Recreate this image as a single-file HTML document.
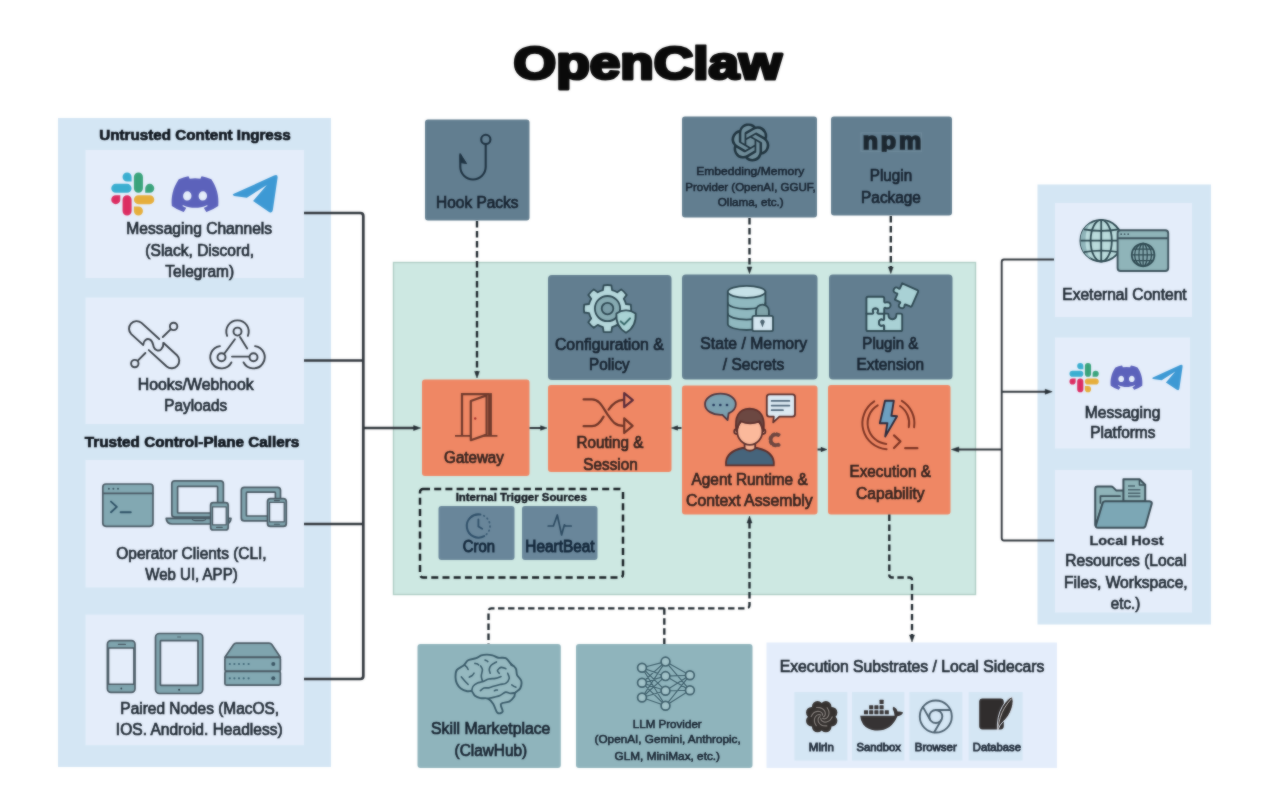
<!DOCTYPE html>
<html lang="en">
<head>
<meta charset="utf-8">
<title>OpenClaw</title>
<style>
html,body{margin:0;padding:0;background:#ffffff;}
body{width:1280px;height:810px;overflow:hidden;position:relative;}
svg{display:block;position:absolute;left:0;top:0;}
text{font-family:"Liberation Sans",Arial,sans-serif;}
.t{font-size:15.6px;fill:#1e2832;stroke:#1e2832;stroke-width:.7px;}
.ts{font-size:11.7px;fill:#1e2832;stroke:#1e2832;stroke-width:.55px;}
.tb{font-size:15.25px;font-weight:bold;fill:#0c131b;stroke:#0c131b;stroke-width:.7px;}
.tl{font-size:11.7px;fill:#263240;stroke:#263240;stroke-width:.9px;}
.ti{font-size:11.4px;font-weight:bold;fill:#10161e;stroke:#10161e;stroke-width:.4px;}
.th{font-size:13.2px;font-weight:bold;fill:#1f2832;stroke:#1f2832;stroke-width:.3px;}
.tn{fill:#13273a;stroke:#13273a;stroke-width:.85px;}
.td{fill:#172330;stroke:#172330;}
.to{fill:#33221e;stroke:#33221e;}
.slate{fill:#627e90;}
.orange{fill:#ef8764;}
.teal{fill:#8fb4bc;}
.panel{fill:#d4e6f4;}
.card{fill:#e4edfa;}
.ln{fill:none;stroke:#30363c;stroke-width:2.7;stroke-linejoin:round;}
.ln2{fill:none;stroke:#30363c;stroke-width:2;stroke-linejoin:round;}
.ln3{fill:none;stroke:#30363c;stroke-width:1.9;stroke-linejoin:round;}
.ds{fill:none;stroke:#1c252b;stroke-width:2.35;stroke-dasharray:6.4 3.6;stroke-linejoin:round;}
.ah{fill:#232c33;stroke:#232c33;stroke-width:.5;stroke-linejoin:round;}
</style>
</head>
<body>
<svg width="1280" height="810" viewBox="0 0 1280 810">
<defs>
<filter id="soft" x="0" y="0" width="1280" height="810" filterUnits="userSpaceOnUse" color-interpolation-filters="sRGB"><feGaussianBlur in="SourceGraphic" stdDeviation="1" result="b"/><feComposite in="SourceGraphic" in2="b" operator="arithmetic" k1="0" k2="0.5" k3="0.5" k4="0"/></filter>
<g id="msgicons">
  <g transform="scale(1.792)">
    <path fill="#dc2d62" d="M5.042 15.165a2.528 2.528 0 0 1-2.52 2.523A2.528 2.528 0 0 1 0 15.165a2.527 2.527 0 0 1 2.522-2.52h2.52v2.52zM6.313 15.165a2.527 2.527 0 0 1 2.521-2.52 2.527 2.527 0 0 1 2.521 2.52v6.313A2.528 2.528 0 0 1 8.834 24a2.528 2.528 0 0 1-2.521-2.522v-6.313z"/>
    <path fill="#3aaed0" d="M8.834 5.042a2.528 2.528 0 0 1-2.521-2.52A2.528 2.528 0 0 1 8.834 0a2.528 2.528 0 0 1 2.521 2.522v2.52H8.834zM8.834 6.313a2.528 2.528 0 0 1 2.521 2.521 2.528 2.528 0 0 1-2.521 2.521H2.522A2.528 2.528 0 0 1 0 8.834a2.528 2.528 0 0 1 2.522-2.521h6.312z"/>
    <path fill="#3aa37b" d="M18.956 8.834a2.528 2.528 0 0 1 2.522-2.521A2.528 2.528 0 0 1 24 8.834a2.528 2.528 0 0 1-2.522 2.521h-2.522V8.834zM17.688 8.834a2.528 2.528 0 0 1-2.523 2.521 2.527 2.527 0 0 1-2.52-2.521V2.522A2.527 2.527 0 0 1 15.165 0a2.528 2.528 0 0 1 2.523 2.522v6.312z"/>
    <path fill="#e6ae3c" d="M15.165 18.956a2.528 2.528 0 0 1 2.523 2.522A2.528 2.528 0 0 1 15.165 24a2.527 2.527 0 0 1-2.52-2.522v-2.522h2.52zM15.165 17.688a2.527 2.527 0 0 1-2.52-2.523 2.526 2.526 0 0 1 2.52-2.52h6.313A2.527 2.527 0 0 1 24 15.165a2.528 2.528 0 0 1-2.522 2.523h-6.313z"/>
  </g>
  <g transform="translate(60.4,-1.8) scale(1.95)">
    <path fill="#5c62bb" fill-rule="evenodd" d="M20.317 4.37a19.79 19.79 0 0 0-4.885-1.515.074.074 0 0 0-.079.037c-.21.375-.444.865-.608 1.25a18.27 18.27 0 0 0-5.487 0 12.64 12.64 0 0 0-.617-1.25.077.077 0 0 0-.079-.037A19.74 19.74 0 0 0 3.677 4.37a.07.07 0 0 0-.032.028C.533 9.046-.32 13.58.099 18.058a.082.082 0 0 0 .031.056 19.9 19.9 0 0 0 5.993 3.03.078.078 0 0 0 .084-.028c.462-.63.873-1.295 1.226-1.994a.076.076 0 0 0-.041-.106 13.1 13.1 0 0 1-1.872-.892.077.077 0 0 1-.008-.128c.126-.094.252-.192.372-.291a.074.074 0 0 1 .078-.01c3.928 1.793 8.18 1.793 12.061 0a.074.074 0 0 1 .079.009c.12.1.246.198.373.293a.077.077 0 0 1-.007.127 12.3 12.3 0 0 1-1.873.892.077.077 0 0 0-.041.107c.36.698.772 1.363 1.225 1.993a.076.076 0 0 0 .084.029 19.84 19.84 0 0 0 6.002-3.03.077.077 0 0 0 .031-.055c.5-5.177-.838-9.674-3.548-13.66a.061.061 0 0 0-.031-.03zM8.02 15.331c-1.183 0-2.157-1.086-2.157-2.419 0-1.333.955-2.419 2.157-2.419 1.21 0 2.176 1.095 2.157 2.42 0 1.332-.956 2.418-2.157 2.418zm7.975 0c-1.183 0-2.157-1.086-2.157-2.419 0-1.333.955-2.419 2.157-2.419 1.21 0 2.176 1.095 2.157 2.42 0 1.332-.946 2.418-2.157 2.418z"/>
  </g>
  <path fill="#3d99d4" d="M122.6 21.3 L162.8 3.1 Q166.9 1.4 166.3 5.6 L161.6 37.6 Q161 41.3 157.8 39.4 L141.8 28.6 L155.6 12.6 L135.6 25.2 L123 23.4 Q120.2 22.5 122.6 21.3 Z"/>
</g>
<path id="openai" fill-rule="evenodd" d="M22.2819 9.8211a5.9847 5.9847 0 0 0-.5157-4.9108 6.0462 6.0462 0 0 0-6.5098-2.9A6.0651 6.0651 0 0 0 4.9807 4.1818a5.9847 5.9847 0 0 0-3.9977 2.9 6.0462 6.0462 0 0 0 .7427 7.0966 5.98 5.98 0 0 0 .511 4.9107 6.051 6.051 0 0 0 6.5146 2.9001A5.9847 5.9847 0 0 0 13.2599 24a6.0557 6.0557 0 0 0 5.7718-4.2058 5.9894 5.9894 0 0 0 3.9977-2.9001 6.0557 6.0557 0 0 0-.7475-7.0729zm-9.022 12.6081a4.4755 4.4755 0 0 1-2.8764-1.0408l.1419-.0804 4.7783-2.7582a.7948.7948 0 0 0 .3927-.6813v-6.7369l2.02 1.1686a.071.071 0 0 1 .038.052v5.5826a4.504 4.504 0 0 1-4.4945 4.4944zm-9.6607-4.1254a4.4708 4.4708 0 0 1-.5346-3.0137l.142.0852 4.783 2.7582a.7712.7712 0 0 0 .7806 0l5.8428-3.3685v2.3324a.0804.0804 0 0 1-.0332.0615L9.74 19.9502a4.4992 4.4992 0 0 1-6.1408-1.6464zM2.3408 7.8956a4.485 4.485 0 0 1 2.3655-1.9728V11.6a.7664.7664 0 0 0 .3879.6765l5.8144 3.3543-2.0201 1.1685a.0757.0757 0 0 1-.071 0l-4.8303-2.7865A4.504 4.504 0 0 1 2.3408 7.872zm16.5963 3.8558L13.1038 8.364 15.1192 7.2a.0757.0757 0 0 1 .071 0l4.8303 2.7913a4.4944 4.4944 0 0 1-.6765 8.1042v-5.6772a.79.79 0 0 0-.407-.667zm2.0107-3.0231l-.142-.0852-4.7735-2.7818a.7759.7759 0 0 0-.7854 0L9.409 9.2297V6.8974a.0662.0662 0 0 1 .0284-.0615l4.8303-2.7866a4.4992 4.4992 0 0 1 6.6802 4.66zM8.3065 12.863l-2.02-1.1638a.0804.0804 0 0 1-.038-.0567V6.0742a4.4992 4.4992 0 0 1 7.3757-3.4537l-.142.0805L8.704 5.459a.7948.7948 0 0 0-.3927.6813zm1.0976-2.3654l2.602-1.4998 2.6069 1.4998v2.9994l-2.5974 1.4997-2.6067-1.4997Z"/>
<clipPath id="titleclip"><rect x="500" y="44.4" width="300" height="60"/></clipPath>
<clipPath id="npmclip"><rect x="858" y="130" width="68" height="21.8"/></clipPath>
</defs>
<g filter="url(#soft)">
<rect x="0" y="0" width="1280" height="810" fill="#ffffff"/>
<!-- panels -->
<rect class="panel" x="58" y="118" width="273" height="649"/>
<rect class="card" x="85.5" y="150" width="218.5" height="128"/>
<rect class="card" x="85.5" y="297.5" width="218.5" height="126.5"/>
<rect class="card" x="85.5" y="460" width="218.5" height="127.5"/>
<rect class="card" x="85.5" y="614.6" width="218.5" height="130.6"/>
<rect class="panel" x="1037.5" y="184.5" width="173.5" height="440"/>
<rect class="card" x="1055" y="203" width="137" height="114"/>
<rect class="card" x="1055" y="337.5" width="135" height="111"/>
<rect class="card" x="1055" y="470" width="137" height="142.5"/>
<rect x="393.5" y="262.5" width="582" height="332" fill="#cde8e2" stroke="#aecdc4" stroke-width="1.4"/>
<!-- top slate boxes -->
<rect class="slate" x="425" y="119.5" width="104.5" height="101" rx="3"/>
<rect class="slate" x="682" y="116.5" width="135" height="101" rx="3"/>
<rect class="slate" x="831" y="116.5" width="121" height="99" rx="3"/>
<!-- inner slate boxes -->
<rect class="slate" x="548" y="275" width="123.5" height="105" rx="4"/>
<rect class="slate" x="682" y="274.5" width="135.5" height="105" rx="4"/>
<rect class="slate" x="829" y="274.5" width="123.5" height="105" rx="4"/>
<!-- orange boxes -->
<rect class="orange" x="422" y="379.5" width="107.5" height="96.5" rx="3"/>
<rect class="orange" x="548" y="385" width="123.5" height="87" rx="3"/>
<rect class="orange" x="682" y="385.5" width="135.5" height="129" rx="3"/>
<rect class="orange" x="828" y="385" width="122.5" height="129.5" rx="3"/>
<!-- internal trigger -->
<rect x="420" y="489" width="203" height="88.5" rx="3" fill="none" stroke="#141b20" stroke-width="2.45" stroke-dasharray="7 4.2"/>
<rect x="438.5" y="506" width="76" height="54" rx="3" fill="#69869a"/>
<rect x="522" y="506" width="75.5" height="54" rx="3" fill="#69869a"/>
<!-- bottom boxes -->
<rect class="teal" x="417.5" y="644.1" width="143.3" height="123.9" rx="3"/>
<rect class="teal" x="576" y="644.1" width="176.5" height="123.9" rx="3"/>
<rect x="766.5" y="642.5" width="290.5" height="125.5" fill="#e4edfb"/>
<rect x="794.4" y="692" width="53" height="68.6" fill="#d4e6f4"/>
<rect x="852" y="692" width="52.4" height="68.6" fill="#d4e6f4"/>
<rect x="909.4" y="692" width="53" height="68.6" fill="#d4e6f4"/>
<rect x="968.6" y="692" width="54" height="68.6" fill="#d4e6f4"/>
<!-- left connectors -->
<path class="ln" d="M304 213 H360.3 Q363.3 213 363.3 216 V676 Q363.3 679 360.3 679 H304"/>
<path class="ln" d="M304 360.5 H363.3 M304 524 H363.3 M363.3 428 H415"/>
<path class="ah" d="M420.6 428 L413.6 425.5 V430.5 Z"/>
<path class="ln2" d="M529.5 428 H541"/>
<path class="ah" d="M547 428 L540.6 425.7 V430.3 Z"/>
<path class="ln2" d="M677 428 H681.5"/>
<path class="ah" d="M671.4 428 L677.6 425.8 V430.2 Z"/>
<path class="ah" d="M827 449.5 L821 447.3 V451.7 Z"/>
<path class="ln2" d="M817.5 449.5 H821.5"/>
<!-- right connectors -->
<path class="ln3" d="M1054 259.5 H1004 Q1001.7 259.5 1001.7 262 V538 Q1001.7 540.5 1004 540.5 H1054"/>
<path class="ln3" d="M1001.7 391.7 H1046 M958 449.5 H1001.7"/>
<path class="ah" d="M1052.2 391.7 L1045.2 389.2 V394.2 Z"/>
<path class="ah" d="M951.4 449.5 L958.8 446.9 V452.1 Z"/>
<!-- dashed connectors -->
<path class="ds" d="M477 221 V372"/>
<path class="ah" d="M477 378 L474.6 371.4 H479.4 Z"/>
<path class="ds" d="M749.5 218 V268"/>
<path class="ah" d="M749.5 273.6 L747.1 267 H751.9 Z"/>
<path class="ds" d="M890.8 216 V268"/>
<path class="ah" d="M890.8 273.6 L888.4 267 H893.2 Z"/>
<path class="ds" d="M749.5 522 V605 Q749.5 608.3 746.5 608.3 H491.5 Q488.5 608.3 488.5 611.5 V644"/>
<path class="ds" d="M664.3 608.3 V644"/>
<path class="ah" d="M749.5 516 L747 523 H752 Z"/>
<path class="ds" d="M889.3 514.5 V575 Q889.3 577.5 892 577.5 H909.5 Q912 577.5 912 580 V635"/>
<path class="ah" d="M912 642 L909.5 635 H914.5 Z"/>
<!-- title -->
<text x="647.6" y="78.9" clip-path="url(#titleclip)" text-anchor="middle" font-size="46" font-weight="bold" fill="#0a0a0a" stroke="#0a0a0a" stroke-width="3.2" stroke-linejoin="round" textLength="268" lengthAdjust="spacingAndGlyphs">OpenClaw</text>
<!-- labels -->
<text class="tb" x="99.35" y="140" textLength="191.30" lengthAdjust="spacingAndGlyphs">Untrusted Content Ingress</text>
<text class="t" x="126.35" y="234" textLength="145.79" lengthAdjust="spacingAndGlyphs">Messaging Channels</text>
<text class="t" x="145.35" y="255.5" textLength="108.79" lengthAdjust="spacingAndGlyphs">(Slack, Discord,</text>
<text class="t" x="165.35" y="276.7" textLength="68.81" lengthAdjust="spacingAndGlyphs">Telegram)</text>
<text class="t" x="137.85" y="390" textLength="115.75" lengthAdjust="spacingAndGlyphs">Hooks/Webhook</text>
<text class="t" x="164.35" y="411.2" textLength="62.78" lengthAdjust="spacingAndGlyphs">Payloads</text>
<text class="tb" x="84.85" y="447" textLength="214.29" lengthAdjust="spacingAndGlyphs">Trusted Control-Plane Callers</text>
<text class="t" x="116.35" y="559" textLength="150.31" lengthAdjust="spacingAndGlyphs">Operator Clients (CLI,</text>
<text class="t" x="145.35" y="580.2" textLength="92.31" lengthAdjust="spacingAndGlyphs">Web UI, APP)</text>
<text class="t" x="120.35" y="714" textLength="158.79" lengthAdjust="spacingAndGlyphs">Paired Nodes (MacOS,</text>
<text class="t" x="115.85" y="735.2" textLength="166.81" lengthAdjust="spacingAndGlyphs">IOS. Android. Headless)</text>
<text class="t td" x="436.10" y="207.5" textLength="82.31" lengthAdjust="spacingAndGlyphs">Hook Packs</text>
<text class="ts td" x="696.27" y="175" textLength="107.96" lengthAdjust="spacingAndGlyphs">Embedding/Memory</text>
<text class="ts td" x="685.27" y="190.5" textLength="130.45" lengthAdjust="spacingAndGlyphs">Provider (OpenAI, GGUF,</text>
<text class="ts td" x="717.77" y="206" textLength="65.96" lengthAdjust="spacingAndGlyphs">Ollama, etc.)</text>
<text class="t td" x="869.85" y="180.5" textLength="42.30" lengthAdjust="spacingAndGlyphs">Plugin</text>
<text class="t td" x="861.10" y="202.5" textLength="59.79" lengthAdjust="spacingAndGlyphs">Package</text>
<text class="t td" x="554.95" y="349.5" textLength="108.91" lengthAdjust="spacingAndGlyphs">Configuration &amp;</text>
<text class="t td" x="589.10" y="370.3" textLength="40.55" lengthAdjust="spacingAndGlyphs">Policy</text>
<text class="t td" x="700.35" y="348.9" textLength="106.80" lengthAdjust="spacingAndGlyphs">State / Memory</text>
<text class="t td" x="722.85" y="370.3" textLength="61.31" lengthAdjust="spacingAndGlyphs">/ Secrets</text>
<text class="t td" x="862.35" y="348.9" textLength="56.05" lengthAdjust="spacingAndGlyphs">Plugin &amp;</text>
<text class="t td" x="856.60" y="370.3" textLength="67.54" lengthAdjust="spacingAndGlyphs">Extension</text>
<text class="t to" x="444.10" y="462.5" textLength="59.78" lengthAdjust="spacingAndGlyphs">Gateway</text>
<text class="t to" x="576.60" y="448.3" textLength="66.79" lengthAdjust="spacingAndGlyphs">Routing &amp;</text>
<text class="t to" x="583.35" y="469.5" textLength="54.30" lengthAdjust="spacingAndGlyphs">Session</text>
<text class="t to" x="691.60" y="485" textLength="116.05" lengthAdjust="spacingAndGlyphs">Agent Runtime &amp;</text>
<text class="t to" x="686.10" y="506.3" textLength="126.57" lengthAdjust="spacingAndGlyphs">Context Assembly</text>
<text class="t to" x="849.60" y="477" textLength="81.29" lengthAdjust="spacingAndGlyphs">Execution &amp;</text>
<text class="t to" x="856.10" y="498.8" textLength="68.53" lengthAdjust="spacingAndGlyphs">Capability</text>
<text class="ti" x="455.70" y="500.5" textLength="131.09" lengthAdjust="spacingAndGlyphs">Internal Trigger Sources</text>
<text class="t tn" x="462.85" y="552" textLength="32.30" lengthAdjust="spacingAndGlyphs">Cron</text>
<text class="t tn" x="525.35" y="552" textLength="69.30" lengthAdjust="spacingAndGlyphs">HeartBeat</text>
<text class="t td" x="431.10" y="734.3" textLength="119.31" lengthAdjust="spacingAndGlyphs">Skill Marketplace</text>
<text class="t td" x="454.60" y="755.5" textLength="72.56" lengthAdjust="spacingAndGlyphs">(ClawHub)</text>
<text class="ts td" x="632.77" y="727.5" textLength="68.94" lengthAdjust="spacingAndGlyphs">LLM Provider</text>
<text class="ts td" x="594.57" y="743.2" textLength="146.16" lengthAdjust="spacingAndGlyphs">(OpenAI, Gemini, Anthropic,</text>
<text class="ts td" x="614.57" y="759.5" textLength="105.46" lengthAdjust="spacingAndGlyphs">GLM, MiniMax, etc.)</text>
<text class="t" x="779.75" y="672" textLength="264.60" lengthAdjust="spacingAndGlyphs">Execution Substrates / Local Sidecars</text>
<text class="tl" x="808.85" y="751.2" textLength="24.99" lengthAdjust="spacingAndGlyphs">Mirin</text>
<text class="tl" x="856.45" y="751.2" textLength="44.30" lengthAdjust="spacingAndGlyphs">Sandbox</text>
<text class="tl" x="914.85" y="751.2" textLength="41.90" lengthAdjust="spacingAndGlyphs">Browser</text>
<text class="tl" x="972.85" y="751.2" textLength="48.11" lengthAdjust="spacingAndGlyphs">Database</text>
<text class="t" x="1062.35" y="299.5" textLength="124.30" lengthAdjust="spacingAndGlyphs">Exeternal Content</text>
<text class="t" x="1084.85" y="417.5" textLength="75.57" lengthAdjust="spacingAndGlyphs">Messaging</text>
<text class="t" x="1090.35" y="438.2" textLength="65.06" lengthAdjust="spacingAndGlyphs">Platforms</text>
<text class="th" x="1089.40" y="545" textLength="74.19" lengthAdjust="spacingAndGlyphs">Local Host</text>
<text class="t" x="1065.35" y="566.3" textLength="121.28" lengthAdjust="spacingAndGlyphs">Resources (Local</text>
<text class="t" x="1064.10" y="587.5" textLength="123.57" lengthAdjust="spacingAndGlyphs">Files, Workspace,</text>
<text class="t" x="1110.85" y="609.3" textLength="29.30" lengthAdjust="spacingAndGlyphs">etc.)</text>
<!-- messaging icons -->
<use href="#msgicons" x="111.25" y="172.5"/>
<use href="#msgicons" transform="translate(1069.5,363) scale(0.68)"/>
<!-- chain link icon -->
<g stroke="#3a4149" stroke-width="1.9" fill="none" stroke-linecap="round" stroke-linejoin="round">
<path d="M159.2 339 L141.52 322.89 A7.6 7.6 0 0 0 131.28 334.11 L143.1 344.9"/>
<path d="M163.6 343 L176.97 355.24 A7.6 7.6 0 0 1 166.73 366.46 L148.8 350.1"/>
<path d="M143.3 344.6 C143.6 340.2 146.8 338.3 149.6 339.4 C153.2 340.9 152.8 344.6 153.9 347.4 C155.2 350.6 158.8 351.6 161.1 349.3 C162.9 347.4 163.6 345.2 163.4 343"/>
<circle cx="173.6" cy="326.4" r="3.7"/><path d="M170.6 329.4 L162.8 337"/>
<circle cx="134.8" cy="363.6" r="3.7"/><path d="M137.8 360.6 L145.4 353"/>
</g>
<!-- webhook icon -->
<g stroke="#3a4149" stroke-width="1.9" fill="none" stroke-linecap="round" stroke-linejoin="round">
<circle cx="237.5" cy="331.6" r="4"/>
<circle cx="221.5" cy="357.2" r="4"/>
<circle cx="253.5" cy="357.2" r="4"/>
<path d="M247.88 335.80 A11.2 11.2 0 1 0 227.12 335.80"/>
<path d="M219.94 346.11 A11.2 11.2 0 1 0 231.39 362.46"/>
<path d="M255.06 346.11 A11.2 11.2 0 1 1 243.61 362.46"/>
<path d="M234.9 339.2 L224.6 353.2 M240 337 L247.2 348.4 M232 356.6 L248.8 356.6"/>
</g>
<!-- operator client icons -->
<g stroke="#4a5a64" stroke-width="1.7" stroke-linejoin="round" stroke-linecap="round">
  <!-- terminal -->
  <rect x="102.8" y="484" width="50.2" height="42.3" rx="3.2" fill="#82a8b2"/>
  <path d="M103 493.3 H153" fill="none"/>
  <path d="M111 501.6 L116.8 506.9 L111 512.2 M120.6 512.2 H130.8" fill="none" stroke="#2f5266" stroke-width="1.9"/>
  <g stroke="none" fill="#3d5561"><circle cx="108.9" cy="488.8" r="1"/><circle cx="113.4" cy="488.8" r="1"/><circle cx="118" cy="488.8" r="1"/></g>
  <!-- laptop + phone -->
  <rect x="171.8" y="480.8" width="51.6" height="36.4" rx="3" fill="#7fa4ae"/>
  <rect x="177.6" y="486.4" width="40" height="26.6" rx="0.8" fill="#e4edfa"/>
  <path d="M166.2 518.4 H231 Q230.6 524 225 524 H172.2 Q166.6 524 166.2 518.4 Z" fill="#7fa4ae"/>
  <path d="M192 518.6 Q192.5 520.6 195 520.6 H203 Q205.5 520.6 206 518.6" fill="none" stroke-width="1.2"/>
  <rect x="210.6" y="502.6" width="17.6" height="27.4" rx="2.6" fill="#7fa4ae"/>
  <rect x="212.6" y="506.8" width="13.6" height="18" fill="#e4edfa" stroke-width="1.2"/>
  <path d="M216.6 527.4 H222.2" stroke-width="1.2" fill="none"/>
  <!-- tablet + phone -->
  <rect x="241.3" y="487.3" width="39.2" height="33.6" rx="3" fill="#7fa4ae"/>
  <rect x="246.4" y="492.2" width="29" height="23.8" rx="0.8" fill="#e4edfa"/>
  <rect x="267.5" y="498.6" width="18.8" height="27.8" rx="3" fill="#7fa4ae"/>
  <rect x="269.6" y="502.4" width="14.6" height="19.4" fill="#e4edfa" stroke-width="1.2"/>
  <path d="M274.4 500.6 H279.4 M274.4 524.2 H279.4" stroke-width="1.1" fill="none"/>
</g>
<!-- paired node icons -->
<g stroke="#4a5a64" stroke-width="1.7" stroke-linejoin="round" stroke-linecap="round">
  <!-- phone -->
  <rect x="107.4" y="640.6" width="27.6" height="51.8" rx="3.6" fill="#7fa4ae"/>
  <rect x="108.6" y="648" width="25.2" height="36.2" fill="#e4edfa" stroke-width="1.4"/>
  <path d="M118.4 644.4 H125.4" fill="none" stroke-width="1.2"/>
  <circle cx="121.3" cy="688.5" r="0.9" fill="#33444e" stroke="none"/>
  <!-- tablet -->
  <rect x="155.5" y="633.5" width="47.2" height="60" rx="4" fill="#7fa4ae"/>
  <rect x="160.4" y="640.6" width="37.6" height="44.8" rx="0.6" fill="#e4edfa"/>
  <circle cx="179.1" cy="689.8" r="1" fill="#2c3b45" stroke="none"/>
  <path d="M177.6 637 H180.6" stroke-width="0.9" fill="none"/>
  <!-- server -->
  <path d="M224.9 657.3 L233.6 644.6 Q234.6 643.2 236.4 643.2 H269 Q270.8 643.2 271.8 644.6 L280.4 657.3 Z" fill="#7fa4ae"/>
  <rect x="224.9" y="657.3" width="55.5" height="14" rx="1.6" fill="#82a8b2"/>
  <rect x="224.9" y="671.3" width="55.5" height="13.8" rx="1.6" fill="#82a8b2"/>
  <g stroke="none" fill="#3f6677"><circle cx="229.8" cy="664" r="1.1"/><circle cx="234.4" cy="664" r="1.1"/><circle cx="239" cy="664" r="1.1"/><circle cx="243.7" cy="664" r="1.1"/><circle cx="248.6" cy="664" r="1.1"/><circle cx="229.8" cy="678.3" r="1.1"/><circle cx="234.4" cy="678.3" r="1.1"/><circle cx="239" cy="678.3" r="1.1"/><circle cx="243.7" cy="678.3" r="1.1"/><circle cx="248.6" cy="678.3" r="1.1"/></g>
  <g stroke="none" fill="#3b5563"><circle cx="273.3" cy="664" r="2"/><circle cx="273.3" cy="678.3" r="2"/></g>
</g>
<!-- hook icon -->
<g fill="none" stroke="#1f3342" stroke-width="2.1" stroke-linecap="round" stroke-linejoin="round">
  <circle cx="485.8" cy="139.4" r="4.6"/>
  <path d="M485.7 144.4 V166.8 A12.7 12.7 0 0 1 460.3 166.8 V155"/>
  <path d="M460.3 153.8 L466.6 163.6 L460.8 162.6 Z" fill="#1f3342" stroke-width="1"/>
</g>
<!-- openai icon -->
<circle cx="750.4" cy="142.4" r="17" fill="#7b99a2" opacity=".55"/>
<use href="#openai" transform="translate(731.4,123.4) scale(1.585)" fill="#20343f"/>
<!-- npm logo -->
<rect x="861" y="132.9" width="60.6" height="18.4" fill="none" stroke="#8aa3b3" stroke-opacity=".35" stroke-width="1"/>
<g clip-path="url(#npmclip)"><text transform="translate(862.8,0) scale(1.07,1)" x="0" y="149.3" text-anchor="start" font-size="23.4" font-weight="bold" fill="#1c2730" stroke="#1c2730" stroke-width="1.6" stroke-linejoin="miter" textLength="54.6" lengthAdjust="spacing">npm</text></g>
<!-- gear + shield -->
<g stroke="#2f4953" stroke-width="1.8" stroke-linejoin="round" stroke-linecap="round">
<path d="M602.90 290.16 L603.60 285.32 A23.6 23.6 0 0 1 611.40 285.32 L612.10 290.16 A19.0 19.0 0 0 1 617.29 292.31 L621.20 289.39 A23.6 23.6 0 0 1 626.71 294.90 L623.79 298.81 A19.0 19.0 0 0 1 625.94 304.00 L630.78 304.70 A23.6 23.6 0 0 1 630.78 312.50 L625.94 313.20 A19.0 19.0 0 0 1 623.79 318.39 L626.71 322.30 A23.6 23.6 0 0 1 621.20 327.81 L617.29 324.89 A19.0 19.0 0 0 1 612.10 327.04 L611.40 331.88 A23.6 23.6 0 0 1 603.60 331.88 L602.90 327.04 A19.0 19.0 0 0 1 597.71 324.89 L593.80 327.81 A23.6 23.6 0 0 1 588.29 322.30 L591.21 318.39 A19.0 19.0 0 0 1 589.06 313.20 L584.22 312.50 A23.6 23.6 0 0 1 584.22 304.70 L589.06 304.00 A19.0 19.0 0 0 1 591.21 298.81 L588.29 294.90 A23.6 23.6 0 0 1 593.80 289.39 L597.71 292.31 A19.0 19.0 0 0 1 602.90 290.16 Z" fill="#b5d7db"/>
<circle cx="607.5" cy="308.6" r="12.6" fill="#86aab1"/>
<circle cx="607.5" cy="308.6" r="5.8" fill="#7a9ca6"/>
<path d="M626 310.4 Q631 310.2 635.6 313.4 Q636.6 326.6 626 332.8 Q615.4 326.6 616.4 313.4 Q621 310.2 626 310.4 Z" fill="#a9d2d4"/>
<path d="M620.8 321.4 L624.2 324.4 L630 318.4" fill="none" stroke="#38696a" stroke-width="2"/>
</g>
<!-- database + lock -->
<g stroke="#2f4953" stroke-width="1.8" stroke-linejoin="round" stroke-linecap="round">
<path d="M727.8 291.8 V324 A18.8 6 0 0 0 765.4 324 V291.8 Z" fill="#8fb8bf"/>
<path d="M727.8 303 A18.8 6 0 0 0 765.4 303 M727.8 313.6 A18.8 6 0 0 0 765.4 313.6" fill="none"/>
<ellipse cx="746.6" cy="291.8" rx="18.8" ry="6" fill="#c6e1e7"/>
<path d="M756 316 V311 A6.45 6.45 0 0 1 768.9 311 V316 Z" fill="#7fa3a9"/>
<rect x="752.4" y="315.8" width="20.6" height="15.4" rx="1.6" fill="#d2e5ef"/>
<path d="M762.45 319.4 a2.3 2.3 0 0 1 1.5 4 L762.45 327.4 L760.95 323.4 a2.3 2.3 0 0 1 1.5 -4 Z" fill="#4a626e" stroke="none"/>
</g>
<!-- puzzle -->
<g stroke="#2f4953" stroke-width="1.9" stroke-linejoin="round" stroke-linecap="round" fill="#a9d1d5">
<path d="M866.4 313.6 H872.2 Q873.8 313.6 873 312 Q871.8 308.4 875.4 308.2 Q879 308.4 877.8 312 Q877 313.6 878.6 313.6 H884.2 V319 Q884.2 320.4 882.8 319.8 Q879.2 318.6 879 322.6 Q879.2 326.6 882.8 325.4 Q884.2 324.8 884.2 326.2 V331 H868 Q866.4 331 866.4 329.4 Z"/>
<path d="M866.4 313.6 V298.4 Q866.4 296.8 868 296.8 H882.6 Q884.2 296.8 884.2 298.4 V301.6 Q884.2 303 885.8 302.4 Q890.4 301.4 890.6 305.2 Q890.4 309 885.8 308 Q884.2 307.4 884.2 308.8 V313.6 H878.6 Q877 313.6 877.8 312 Q879 308.4 875.4 308.2 Q871.8 308.4 873 312 Q873.8 313.6 872.2 313.6 Z"/>
<path d="M884.2 313.6 H887.4 Q888.6 313.6 888.4 314.8 Q888.4 319 892.4 319.2 Q896.4 319 896.4 314.8 Q896.2 313.6 897.4 313.6 H900.6 Q902.2 313.6 902.2 315.2 V329.4 Q902.2 331 900.6 331 H884.2 V326.2 Q884.2 324.8 882.8 325.4 Q879.2 326.6 879 322.6 Q879.2 318.6 882.8 319.8 Q884.2 320.4 884.2 319 Z"/>
<g transform="translate(906.4,295) rotate(24)">
<path d="M-8.6 -9 H8 Q9.4 -9 9.4 -7.6 V7.6 Q9.4 9 8 9 H3.4 Q2 9 2.6 10.4 Q3.6 14 0 14.2 Q-3.6 14 -2.6 10.4 Q-2 9 -3.4 9 H-8.6 V3.2 Q-8.6 1.8 -10 2.4 Q-13.6 3.4 -13.8 -0.2 Q-13.6 -3.8 -10 -2.8 Q-8.6 -2.2 -8.6 -3.6 Z"/>
</g>
</g>
<!-- door -->
<g stroke="#6f3a2c" stroke-width="2.2" stroke-linejoin="miter" stroke-linecap="butt" fill="none">
<path d="M455 435.8 H497.4" stroke-width="1.8"/>
<path d="M462 435.8 V394.2 H489"/>
<path d="M490 393.1 V435.8" stroke-width="3.8"/>
<path d="M470.8 401 L486.6 395.4 V434.6 L470.8 440.2 Z" fill="#f08a68" stroke-linejoin="round"/>
<circle cx="475.2" cy="418.5" r="1.2" fill="#a3302a" stroke="none"/>
</g>
<!-- shuffle -->
<g stroke="#6e3527" stroke-width="2.2" stroke-linejoin="round" stroke-linecap="round" fill="none">
<path d="M583.6 399.4 H592 C600 399.4 603 408 607.6 414.6 C612 421 615 425.8 623.4 425.8"/>
<path d="M583.6 426.2 H592 C597.4 426.2 600.6 422 603.6 416.6 M608.6 409.6 C612.4 404 616.4 400 623 399.8"/>
<path d="M624.2 393.2 L632.8 400.2 L624.2 407.2 Z" stroke="#5a2c3a"/>
<path d="M624.2 418.4 L632.6 425.8 L624.2 433 Z"/>
</g>
<!-- agent -->
<g stroke="#5a2f2c" stroke-width="1.8" stroke-linejoin="round" stroke-linecap="round">
<path d="M726 465.4 V462 Q727 451.6 742.4 448 L757 448 Q772.8 451.6 773.8 462 V465.4 Z" fill="#46647b"/>
<path d="M744.6 444 V448.6 Q749.8 453 755.2 448.6 V444 Z" fill="#f9b495"/>
<circle cx="736.6" cy="431.6" r="2.4" fill="#f9b495"/><circle cx="763" cy="431.6" r="2.4" fill="#f9b495"/>
<ellipse cx="749.8" cy="431.2" rx="12.6" ry="13.6" fill="#fbb99b"/>
<path d="M736.4 431 Q733.2 409.4 749.6 408.6 Q766.4 409.4 763.4 431 Q761.6 424.6 759.4 421.4 Q750 425.6 740.6 421.2 Q738 425 736.4 431 Z" fill="#6c4842"/>
<path d="M720.4 393.6 C729.6 393.6 735.8 398.4 735.8 404.2 C735.8 408.6 732.6 411.6 728.6 413.4 L727.6 420.2 L722.4 414.8 C712.6 415.4 705 410.6 705 404.2 C705 398.4 711.4 393.6 720.4 393.6 Z" fill="#7b9fae" stroke="#4d3640"/>
<g stroke="none" fill="#22365a"><circle cx="713.6" cy="405" r="1.35"/><circle cx="720.3" cy="405" r="1.35"/><circle cx="727" cy="405" r="1.35"/></g>
<path d="M769.4 394.4 H792.4 Q795 394.4 795 397 V414 Q795 416.6 792.4 416.6 H779.4 L773.2 422.4 L773.8 416.6 H769.4 Q766.8 416.6 766.8 414 V397 Q766.8 394.4 769.4 394.4 Z" fill="#dce9f2"/>
<path d="M771.6 400.9 H789.4 M771.6 405.6 H789.4 M771.6 410.2 H783" stroke="#4d6478" stroke-width="1.7" fill="none"/>
<g fill="none" stroke="#6d4640"><path d="M778.35 435.39 A5 5 0 1 0 778.35 444.21" stroke-width="3"/><path d="M779.29 434.54 A6.2 6.2 0 1 0 779.29 445.06" stroke-width="2.6" stroke-dasharray="2.5 2.4"/></g>
</g>
<!-- execution -->
<g stroke="#7d3524" stroke-width="2" stroke-linecap="round" stroke-linejoin="round" fill="none">
<path d="M874.24 401.39 A26 26 0 0 0 886.59 449.14"/>
<path d="M877.69 405.37 A20.8 20.8 0 0 0 886.23 443.89"/>
<path d="M901.79 400.91 A26 26 0 0 1 914.08 427.27"/>
<path d="M900.03 405.96 A20.8 20.8 0 0 1 908.82 427.17"/>
<path d="M894 435.4 L900.4 441.4 L894 448 M905.2 448.2 H917.4" stroke-width="2.2"/>
<path d="M885 400.8 H893.8 L891.4 415.8 L897 416.2 L885.2 436.4 L887.4 423.2 H879.8 Z" fill="#6da0c1" stroke="#2b2a3c" stroke-width="1.9"/>
</g>
<!-- cron -->
<g stroke="#31516a" fill="none" stroke-linecap="round" stroke-linejoin="round">
<path d="M480.41 514.58 A11.6 11.6 0 1 0 484.20 536.05" stroke-width="2"/>
<path d="M483.85 515.76 A11.6 11.6 0 0 1 485.54 535.14" stroke-width="1.8" stroke-dasharray="0.6 3.6" opacity=".8"/>
<path d="M478.4 519.4 V526.4 L482.2 528.8" stroke-width="1.8"/>
</g>
<!-- heartbeat -->
<path d="M548.2 526 H553.4 L557.3 515 L561.6 535 L564.4 524.8 L565.4 526 H571.2" stroke="#2d4b61" stroke-width="1.7" fill="none" stroke-linecap="round" stroke-linejoin="round"/>
<!-- brain -->
<g stroke="#3a5b69" stroke-width="1.9" fill="none" stroke-linecap="round" stroke-linejoin="round">
<path d="M455.48 676.96 C455.48 674.69 455.48 671.88 456.89 669.92 C458.29 667.97 462.05 666.84 463.92 665.23 C465.80 663.62 466.11 661.43 468.14 660.26 C470.18 659.09 473.93 659.01 476.12 658.20 C478.31 657.38 479.48 655.97 481.28 655.38 C483.07 654.79 485.03 654.63 486.90 654.63 C488.78 654.63 490.66 654.86 492.53 655.38 C494.41 655.90 495.97 657.26 498.16 657.73 C500.35 658.20 503.60 657.26 505.67 658.20 C507.73 659.13 508.86 661.63 510.54 663.35 C512.23 665.07 514.70 666.56 515.80 668.51 C516.89 670.47 516.20 673.02 517.11 675.08 C518.02 677.14 520.71 678.71 521.24 680.90 C521.77 683.09 521.30 686.24 520.30 688.21 C519.30 690.18 516.27 691.28 515.23 692.72 C514.20 694.16 515.05 695.41 514.11 696.84 C513.17 698.28 511.79 700.16 509.61 701.35 C507.42 702.54 502.13 702.25 500.98 703.97 C499.82 705.69 503.26 710.20 502.66 711.67 C502.07 713.14 498.97 714.07 497.41 712.79 C495.85 711.51 494.85 706.35 493.28 703.97 C491.72 701.60 490.19 699.50 488.03 698.53 C485.87 697.56 482.53 698.63 480.34 698.16 C478.15 697.69 476.34 696.88 474.90 695.72 C473.46 694.56 472.99 691.97 471.71 691.22 C470.43 690.47 469.02 691.68 467.20 691.22 C465.39 690.75 462.55 689.68 460.83 688.40 C459.11 687.12 457.78 685.43 456.89 683.52 C455.99 681.62 455.48 679.22 455.48 676.96 Z" fill="#ffffff" fill-opacity=".07"/>
<path d="M471.71 691.22 C471.93 690.40 472.05 687.70 473.02 686.34 C473.99 684.98 475.99 683.80 477.52 683.05 C479.06 682.30 480.34 682.51 482.21 681.83 C484.09 681.16 486.59 679.60 488.78 679.02 C490.97 678.44 493.31 678.79 495.35 678.36 C497.38 677.94 500.04 676.80 500.98 676.49" stroke-width="1.6"/>
<path d="M480.34 690.65 C480.96 690.22 482.68 688.50 484.09 688.03 C485.50 687.56 487.22 688.12 488.78 687.84 C490.34 687.56 491.59 686.90 493.47 686.34 C495.35 685.77 498.01 684.96 500.04 684.46 C502.07 683.96 504.13 684.35 505.67 683.34 C507.20 682.32 508.89 680.02 509.23 678.36 C509.57 676.71 507.98 674.22 507.73 673.39" stroke-width="1.6"/>
<path d="M488.03 698.53 C489.09 698.30 492.41 697.63 494.41 697.13 C496.41 696.63 498.16 696.36 500.04 695.53 C501.91 694.70 503.95 692.51 505.67 692.15 C507.39 691.79 508.79 693.28 510.36 693.37 C511.92 693.47 514.27 692.83 515.05 692.72" stroke-width="1.6"/>
<path d="M461.39 676.96 C461.92 677.58 463.45 679.46 464.58 680.71 C465.70 681.96 467.55 683.84 468.14 684.46" stroke-width="1.6"/>
<path d="M469.27 677.14 C469.78 676.83 471.58 675.92 472.36 675.27 C473.15 674.61 473.69 673.55 473.96 673.20" stroke-width="1.6"/>
<path d="M474.90 663.35 C475.26 663.43 476.43 663.56 477.05 663.82 C477.68 664.09 478.38 664.76 478.65 664.95" stroke-width="1.6"/>
<path d="M480.53 665.89 C480.84 666.51 482.28 667.95 482.40 669.64 C482.53 671.33 481.28 674.14 481.28 676.02 C481.28 677.89 482.21 680.08 482.40 680.90" stroke-width="1.6"/>
<path d="M485.03 660.07 C485.28 660.17 486.06 660.38 486.53 660.63 C487.00 660.88 487.62 661.42 487.84 661.57" stroke-width="1.6"/>
<path d="M496.47 661.95 C495.58 662.49 492.33 663.98 491.13 665.23 C489.92 666.48 489.41 668.12 489.25 669.45 C489.09 670.78 490.03 672.58 490.19 673.20" stroke-width="1.6"/>
<path d="M505.85 668.70 C505.04 668.48 502.38 667.08 500.98 667.39 C499.57 667.70 497.69 669.58 497.41 670.58 C497.13 671.58 498.97 672.92 499.29 673.39" stroke-width="1.6"/>
<path d="M464.86 665.23 C465.17 665.54 466.19 666.40 466.74 667.11 C467.28 667.81 467.91 669.06 468.14 669.45" stroke-width="1.6"/>
<path d="M494.41 690.65 C494.66 690.56 495.41 690.18 495.91 690.09 C496.41 690.00 497.16 690.09 497.41 690.09" stroke-width="1.6"/>
<path d="M511.76 684.93 C512.12 685.17 513.22 685.95 513.92 686.34 C514.62 686.73 515.64 687.12 515.98 687.28" stroke-width="1.6"/>
<path d="M510.54 663.35 C510.67 663.67 510.70 664.76 511.29 665.23 C511.89 665.70 513.64 666.01 514.11 666.17" stroke-width="1.6"/>
</g>
<!-- neural network -->
<g stroke="#3f5f6b" fill="none">
<path d="M642 667.7 L665.5 661.6 M642 667.7 L665.5 676.1 M642 667.7 L665.5 690.7 M642 667.7 L665.5 705.7 M642 682.7 L665.5 661.6 M642 682.7 L665.5 676.1 M642 682.7 L665.5 690.7 M642 682.7 L665.5 705.7 M642 697.5 L665.5 661.6 M642 697.5 L665.5 676.1 M642 697.5 L665.5 690.7 M642 697.5 L665.5 705.7 M665.5 661.6 L689.9 675.2 M665.5 661.6 L689.9 690.2 M665.5 676.1 L689.9 675.2 M665.5 676.1 L689.9 690.2 M665.5 690.7 L689.9 675.2 M665.5 690.7 L689.9 690.2 M665.5 705.7 L689.9 675.2 M665.5 705.7 L689.9 690.2" stroke-width="1.15"/>
<g fill="#a2c3c9" stroke-width="1.7">
<circle cx="642" cy="667.7" r="4.4"/>
<circle cx="642" cy="682.7" r="4.4"/>
<circle cx="642" cy="697.5" r="4.4"/>
<circle cx="665.5" cy="661.6" r="4.4"/>
<circle cx="665.5" cy="676.1" r="4.4"/>
<circle cx="665.5" cy="690.7" r="4.4"/>
<circle cx="665.5" cy="705.7" r="4.4"/>
<circle cx="689.9" cy="675.2" r="4.4"/>
<circle cx="689.9" cy="690.2" r="4.4"/>
</g></g>
<!-- mirin -->
<g fill="#35312f"><circle cx="821.7" cy="716.7" r="12.6"/>
<circle cx="831.77" cy="712.53" r="5.6"/>
<circle cx="825.87" cy="706.63" r="5.6"/>
<circle cx="817.53" cy="706.63" r="5.6"/>
<circle cx="811.63" cy="712.53" r="5.6"/>
<circle cx="811.63" cy="720.87" r="5.6"/>
<circle cx="817.53" cy="726.77" r="5.6"/>
<circle cx="825.87" cy="726.77" r="5.6"/>
<circle cx="831.77" cy="720.87" r="5.6"/>
</g>
<path d="M823.50 716.70 C823.69 716.55 824.32 716.21 824.62 715.81 C824.91 715.41 825.17 714.87 825.26 714.30 C825.36 713.73 825.36 713.04 825.19 712.39 C825.02 711.74 824.71 711.01 824.25 710.40 C823.78 709.78 823.15 709.15 822.40 708.68 C821.65 708.22 820.74 707.80 819.77 707.60 C818.80 707.40 817.12 707.49 816.59 707.47 M822.60 715.14 C822.56 714.91 822.59 714.18 822.39 713.73 C822.19 713.27 821.85 712.78 821.40 712.41 C820.95 712.04 820.36 711.70 819.71 711.52 C819.06 711.34 818.28 711.25 817.51 711.34 C816.75 711.44 815.88 711.67 815.11 712.08 C814.33 712.50 813.51 713.09 812.86 713.83 C812.20 714.57 811.44 716.07 811.15 716.52 M820.80 715.14 C820.58 715.05 819.96 714.67 819.47 714.62 C818.98 714.57 818.38 714.61 817.84 714.82 C817.29 715.02 816.70 715.36 816.22 715.83 C815.74 716.30 815.27 716.93 814.97 717.65 C814.66 718.36 814.43 719.22 814.40 720.10 C814.37 720.98 814.48 721.98 814.79 722.92 C815.10 723.86 816.02 725.27 816.27 725.74 M819.90 716.70 C819.71 716.85 819.08 717.19 818.78 717.59 C818.49 717.99 818.23 718.53 818.14 719.10 C818.04 719.67 818.04 720.36 818.21 721.01 C818.38 721.66 818.69 722.39 819.15 723.00 C819.62 723.62 820.25 724.25 821.00 724.72 C821.75 725.18 822.66 725.60 823.63 725.80 C824.60 726.00 826.28 725.91 826.81 725.93 M820.80 718.26 C820.84 718.49 820.81 719.22 821.01 719.67 C821.21 720.13 821.55 720.62 822.00 720.99 C822.45 721.36 823.04 721.70 823.69 721.88 C824.34 722.06 825.12 722.15 825.89 722.06 C826.65 721.96 827.52 721.73 828.29 721.32 C829.07 720.90 829.89 720.31 830.54 719.57 C831.20 718.83 831.96 717.33 832.25 716.88 M822.60 718.26 C822.82 718.35 823.44 718.73 823.93 718.78 C824.42 718.83 825.02 718.79 825.56 718.58 C826.11 718.38 826.70 718.04 827.18 717.57 C827.66 717.10 828.13 716.47 828.43 715.75 C828.74 715.04 828.97 714.18 829.00 713.30 C829.03 712.42 828.92 711.42 828.61 710.48 C828.30 709.54 827.38 708.13 827.13 707.66" fill="none" stroke="#8f8a86" stroke-width="1.15" stroke-linecap="round" opacity=".9"/>
<!-- docker -->
<g fill="#363334">
<path d="M860.2 715.8 H894.6 Q894.4 712 892.8 709.2 Q892.4 707.2 893.8 706.8 Q896.8 708.4 897.6 711.6 Q900.4 711 903.2 712.6 Q902 715.6 897.4 716.2 Q894.4 723.2 889.4 727 Q883 731.2 875 730.4 Q867.4 729.6 863.2 724.4 Q860.4 720.6 860.2 715.8 Z"/>
<rect x="863.95" y="710.15" width="4.1" height="4.1" rx=".5"/>
<rect x="869.15" y="710.15" width="4.1" height="4.1" rx=".5"/>
<rect x="874.35" y="710.15" width="4.1" height="4.1" rx=".5"/>
<rect x="879.55" y="710.15" width="4.1" height="4.1" rx=".5"/>
<rect x="884.75" y="710.15" width="4.1" height="4.1" rx=".5"/>
<rect x="869.15" y="705.15" width="4.1" height="4.1" rx=".5"/>
<rect x="874.35" y="705.15" width="4.1" height="4.1" rx=".5"/>
<rect x="879.55" y="705.15" width="4.1" height="4.1" rx=".5"/>
<rect x="879.55" y="699.85" width="4.1" height="4.1" rx=".5"/>
</g>
<!-- chrome -->
<g stroke="#4d6170" stroke-width="1.9" fill="none" stroke-linecap="round">
<circle cx="935.8" cy="716.5" r="16"/><circle cx="935.8" cy="716.5" r="6.5"/>
<path d="M935.8 710.0 H950.1999999999999 M930.0999999999999 719.7 L923.0 707.1 M941.5 719.7 L934.1999999999999 732.3"/>
</g>
<!-- database feather -->
<rect x="979.2" y="698.4" width="24.6" height="31" rx="3.4" fill="#302d2d"/>
<path d="M997.4 731.4 Q996.6 716 1002.4 706.4 Q1007.6 698.2 1012 696.8 Q1014.2 700.6 1012 708 Q1009.4 716.6 1002.6 722.2 Q999.4 725 997.4 731.4 Z" fill="#33302f" stroke="#e4edfb" stroke-width=".9" stroke-linejoin="round"/>
<path d="M997.8 729 Q999.4 716.6 1004.4 708.2 Q1007.6 702.8 1011.2 699" fill="none" stroke="#b9b4b3" stroke-width="1" stroke-linecap="round"/>
<!-- globe + browser -->
<g stroke="#2f4a52" stroke-width="1.8" fill="none" stroke-linejoin="round">
<circle cx="1101.2" cy="240.7" r="20.8" fill="#b9dadb"/>
<path d="M1080.4 240.7 A20.8 20.8 0 0 1 1091.2 222.5 A11.2 20.8 0 0 0 1091.2 258.9 A20.8 20.8 0 0 1 1080.4 240.7 Z" fill="#8fb4b9" stroke="none"/>
<ellipse cx="1101.2" cy="240.7" rx="10.6" ry="20.8"/>
<path d="M1101.2 219.89999999999998 V261.5 M1080.4 240.7 H1122.0"/>
<path d="M1083.8 229.29999999999998 Q1101.2 232.29999999999998 1118.6000000000001 229.29999999999998 M1083.8 252.1 Q1101.2 249.1 1118.6000000000001 252.1"/>
<rect x="1117.6" y="230.2" width="50.6" height="40.8" rx="3" fill="#8fb4b9" stroke="#3c525c" stroke-width="1.9"/>
<path d="M1117.6 238.2 H1168.2" stroke="#3c525c" stroke-width="1.9"/>
<g fill="#3c525c" stroke="none"><circle cx="1121.2" cy="234.2" r=".9"/><circle cx="1124.6" cy="234.2" r=".9"/><circle cx="1128.2" cy="234.2" r=".9"/></g>
<circle cx="1143.1" cy="254.9" r="11.4" fill="#86a9af" stroke-width="1.7"/>
<g stroke-width="1.3"><ellipse cx="1143.1" cy="254.9" rx="4.2" ry="11.4"/><ellipse cx="1143.1" cy="254.9" rx="8.4" ry="11.4"/><path d="M1143.1 243.5 V266.3 M1131.6999999999998 254.9 H1154.5 M1133.3 249.1 H1152.8999999999999 M1133.3 260.7 H1152.8999999999999"/><path d="M1134.5 247.3 Q1129.1 254.9 1134.5 262.5 M1151.6999999999998 247.3 Q1157.1 254.9 1151.6999999999998 262.5" opacity=".0"/></g>
</g>
<!-- folder -->
<g stroke="#3a4d57" stroke-width="2" stroke-linejoin="round" stroke-linecap="round">
<path d="M1095.2 525 V489 Q1095.2 486.6 1097.6 486.6 H1111 Q1112.4 486.6 1113.4 487.6 L1116.4 490.6 H1124 V503 H1103 L1095.6 526 Z" fill="#8fb4b9"/>
<path d="M1100.4 503 V496.2 H1120" fill="none" stroke-width="1.7"/>
<path d="M1123.4 479.2 H1139.6 L1145.2 484.8 V501.6 H1123.4 Z" fill="#8fb4b9"/>
<path d="M1139.4 479.6 V485 H1144.8" fill="none" stroke-width="1.4"/>
<path d="M1128 486 H1135 M1128 489.8 H1140.4 M1128 493.2 H1140.4 M1128 496.4 H1140.4" fill="none" stroke="#4a626c" stroke-width="1.6" stroke-linecap="butt"/>
<path d="M1105.4 501.2 H1149.4 Q1152.4 501.4 1151.6 504.2 L1145.6 525.6 Q1144.8 527.8 1142.6 527.8 H1098.2 Q1095.2 527.8 1096 525 L1102.6 503.2 Q1103.2 501.2 1105.4 501.2 Z" fill="#7ca7b5"/>
</g>
</g>
</svg>
</body>
</html>
